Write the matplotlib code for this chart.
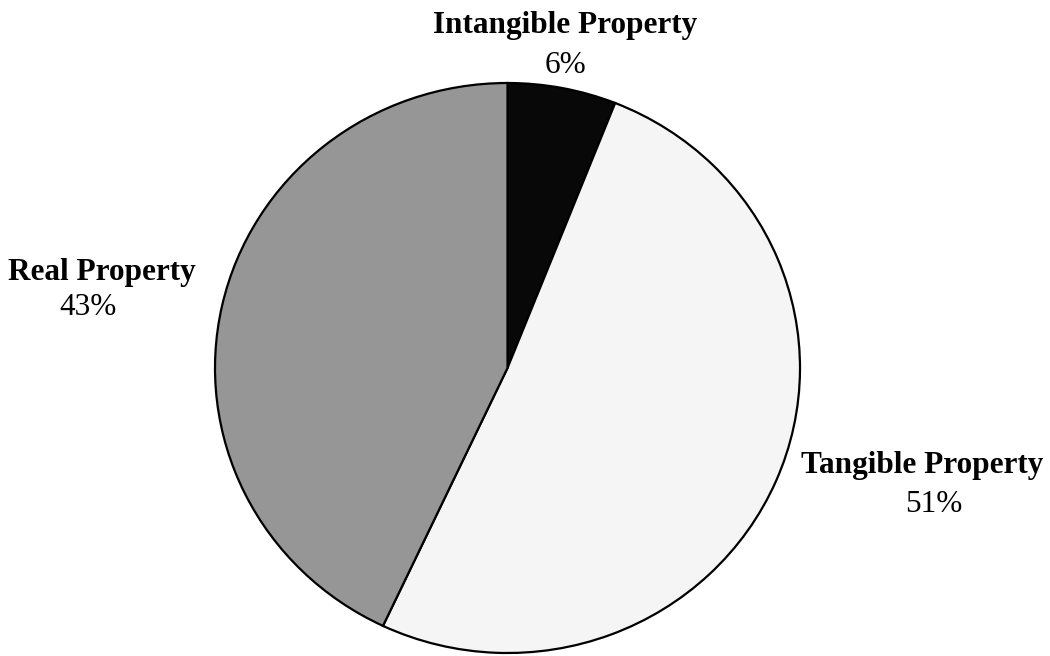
import matplotlib
matplotlib.use("Agg")
from matplotlib import pyplot as plt

# slice data (clockwise from 12 o'clock)
categories = ["Intangible Property", "Tangible Property", "Real Property"]
shares = [6, 51, 43]
slice_colors = ["#080808", "#f5f5f5", "#969696"]

# label baselines in pixels (x centre, y from top): name line, percent line
name_pos = {
    "Intangible Property": (565, 33),
    "Tangible Property": (922, 473),
    "Real Property": (102, 280),
}
pct_pos = {
    "Intangible Property": (566, 73),
    "Tangible Property": (934, 512),
    "Real Property": (88, 315),
}

W, H = 1050, 656
RX, RY = 292.5, 285.0  # pie is slightly squashed in the original
sy = RX / RY

fig = plt.figure(figsize=(W / 100, H / 100), dpi=100)
ax = fig.add_axes([0, 0, 1, 1])

ax.pie(shares, colors=slice_colors, startangle=90, counterclock=False,
       center=(507.5, (H - 368) * sy), radius=RX,
       wedgeprops={"edgecolor": "black", "linewidth": 1.6})
ax.set_aspect("auto")
ax.set_xlim(0, W)
ax.set_ylim(0, H * sy)
ax.axis("off")

for name, val in zip(categories, shares):
    x, y = name_pos[name]
    fig.text(x / W, 1 - y / H, name, ha="center", va="baseline",
             family="Liberation Serif", fontweight="bold", fontsize=22.5)
    x, y = pct_pos[name]
    fig.text(x / W, 1 - y / H, "%d%%" % val, ha="center", va="baseline",
             family="Liberation Serif", fontsize=22.5)

fig.savefig("out.png", dpi=100)
